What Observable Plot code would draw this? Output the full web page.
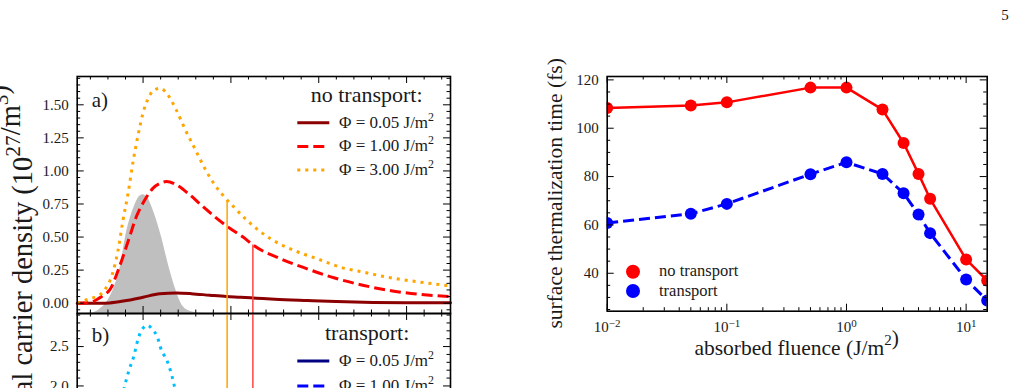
<!DOCTYPE html>
<html><head><meta charset="utf-8">
<script src="https://cdn.jsdelivr.net/npm/d3@7"></script>
<script src="https://cdn.jsdelivr.net/npm/@observablehq/plot@0.6"></script>
<style>
html,body{margin:0;padding:0;background:#fff;overflow:hidden;}
#root{position:relative;width:1024px;height:388px;overflow:hidden;}
#root svg{position:absolute;overflow:visible;}
</style></head><body><div id="root"></div>
<script>
// ---------- data: panel a (no transport), time in fs, density in 1e27/m^3 ----------
const tNo005 = [-75,-50,-38,-19,0,19,38,55,76,95,111,129,150,187,220,262,300,350];
const nNo005 = [0,0,0.002,0.02,0.045,0.071,0.077,0.072,0.06,0.05,0.045,0.038,0.03,0.02,0.012,0.006,0.004,0.003];
const tNo100 = [-75,-60,-53,-45,-38,-26.7,-17.1,-7.6,1.9,11.4,19,26.5,37.9,53,68.3,83.5,98.7,113.9,126,156.4,186.8,217.2,251.3,285.5,316,350];
const nNo100 = [0,0.005,0.026,0.06,0.10,0.28,0.466,0.655,0.78,0.87,0.905,0.92,0.895,0.82,0.73,0.643,0.567,0.50,0.436,0.336,0.26,0.192,0.134,0.091,0.066,0.05];
const tNo300 = [-75,-60,-50,-43.7,-35,-28.5,-22.8,-17.1,-11.4,-5.7,0,6,12.1,19.7,26.5,37.9,47.4,58.8,70.2,81.6,93,104.4,117.7,145.2,171.6,198.2,224.8,251.3,281.8,316,350];
const nNo300 = [0,0.036,0.06,0.10,0.22,0.40,0.63,0.83,1.07,1.27,1.44,1.55,1.61,1.625,1.59,1.46,1.32,1.17,1.02,0.895,0.80,0.72,0.63,0.487,0.40,0.336,0.272,0.234,0.192,0.159,0.13];
const tPulse = [-75,-60,-50,-40,-34,-26.7,-19,-10,-5,0,5,10,21,28.5,36,45.5,55,65,75];
const nPulse = [-0.078,-0.076,-0.05,0.02,0.10,0.25,0.53,0.73,0.80,0.82,0.80,0.73,0.50,0.30,0.126,-0.025,-0.065,-0.076,-0.078];
// thermalization markers (time, curve value) for 1.00 and 3.00 J/m^2
const markTime300 = 95.7, markVal300 = 0.775;
const markTime100 = 125,  markVal100 = 0.44;
// ---------- data: panel b (transport) ----------
const tTr300 = [-28,-22,-16,-11,-5,-1,5,11,16,21,27,31,35,40];
const nTr300 = [1.65,1.95,2.2,2.36,2.62,2.72,2.77,2.71,2.63,2.45,2.33,2.2,2.03,1.75];
// ---------- data: right panel ----------
const fluence = [0.01,0.05,0.1,0.5,1,2,3,4,5,10,15];
const tauNoTransport = [108.4,109.4,110.7,116.8,116.8,107.7,93.9,81.1,70.8,45.7,37.0];
const tauTransport   = [60.8,64.6,68.7,81.0,85.9,81.1,73.1,64.3,56.6,37.4,28.7];
// ---------- ticks ----------
const xTicksLeft = [0,100,200,300];
const yTicksA = [0,0.25,0.5,0.75,1.0,1.25,1.5];
const yTicksB = [0,0.5,1.0,1.5,2.0,2.5];
const xTicksRight = [0.01,0.1,1,10];
const yTicksRight = [40,60,80,100,120];

const serif = '"Liberation Serif","Times New Roman",serif';
const root = document.getElementById("root");
const NS = "http://www.w3.org/2000/svg";
const rows = (t, n) => t.map((d, i) => ({t: d, n: n[i]}));
const notMajor = (step) => (d) => Math.abs(d / step - Math.round(d / step)) > 1e-6;

function frameTicks({xMaj = [], xMin = [], yMaj = [], yMin = [], iw, ih}) {
  const k = {stroke: "black", strokeWidth: 1};
  const m = [];
  for (const [a, L] of [[xMaj, 7], [xMin, 3.5]]) {
    m.push(Plot.ruleX(a, {x: d => d, insetTop: ih - L, ...k}));
    m.push(Plot.ruleX(a, {x: d => d, insetBottom: ih - L, ...k}));
  }
  for (const [a, L] of [[yMaj, 7], [yMin, 3.5]]) {
    m.push(Plot.ruleY(a, {y: d => d, insetRight: iw - L, ...k}));
    m.push(Plot.ruleY(a, {y: d => d, insetLeft: iw - L, ...k}));
  }
  return m;
}
function place(svg, left, top) {
  svg.style.position = "absolute"; svg.style.left = left + "px"; svg.style.top = top + "px";
  root.appendChild(svg);
}
function addText(svg, x, y, parts, size, anchor = "start", transform = null, supScale = 0.7) {
  const t = document.createElementNS(NS, "text");
  t.setAttribute("x", x); t.setAttribute("y", y);
  if (transform) { t.setAttribute("transform", transform); t.setAttribute("x", 0); t.setAttribute("y", 0); }
  t.setAttribute("font-size", size); t.setAttribute("font-family", serif);
  t.setAttribute("text-anchor", anchor); t.setAttribute("fill", "#1a1a1a");
  for (const p of parts) {
    const s = document.createElementNS(NS, "tspan");
    if (typeof p === "string") { s.textContent = p; t.appendChild(s); }
    else {
      s.textContent = p.sup; s.setAttribute("dy", -0.42 * size); s.setAttribute("font-size", size * supScale);
      t.appendChild(s);
      const r = document.createElementNS(NS, "tspan"); r.setAttribute("dy", 0.42 * size); r.textContent = "";
      t.appendChild(r);
    }
  }
  svg.appendChild(t);
  return t;
}
function addLine(svg, x1, x2, y, color, dash, w = 3) {
  const l = document.createElementNS(NS, "line");
  l.setAttribute("x1", x1); l.setAttribute("x2", x2); l.setAttribute("y1", y); l.setAttribute("y2", y);
  l.setAttribute("stroke", color); l.setAttribute("stroke-width", w);
  if (dash) l.setAttribute("stroke-dasharray", dash);
  svg.appendChild(l);
}
function addDot(svg, x, y, r, color) {
  const c = document.createElementNS(NS, "circle");
  c.setAttribute("cx", x); c.setAttribute("cy", y); c.setAttribute("r", r); c.setAttribute("fill", color);
  svg.appendChild(c);
}
const baseStyle = {background: "transparent", overflow: "visible", fontFamily: serif, fontSize: "15px", color: "#1a1a1a"};
const xDomLeft = [-75, 350];
const xMinorLeft = d3.range(-60, 341, 20).filter(notMajor(100));

// ---------- panel a ----------
{
  const W = 460, H = 314, ml = 76.7, mr = 10, mt = 76, mb = 1;
  const iw = W - ml - mr, ih = H - mt - mb;
  const yDom = [-0.078, 1.714];
  const svg = Plot.plot({
    width: W, height: H, marginLeft: ml, marginRight: mr, marginTop: mt, marginBottom: mb,
    x: {domain: xDomLeft, axis: null}, y: {domain: yDom, axis: null},
    style: baseStyle,
    marks: [
      Plot.areaY(rows(tPulse, nPulse), {x: "t", y1: yDom[0], y2: "n", fill: "#bfbfbf", curve: "monotone-x"}),
      Plot.line(rows(tNo005, nNo005), {x: "t", y: "n", stroke: "#8b0000", strokeWidth: 3, curve: "monotone-x"}),
      Plot.line(rows(tNo100, nNo100), {x: "t", y: "n", stroke: "#ff0000", strokeWidth: 3, strokeDasharray: "11,5", strokeLinecap: "butt", curve: "monotone-x"}),
      Plot.line(rows(tNo300, nNo300), {x: "t", y: "n", stroke: "#ffa500", strokeWidth: 3, strokeDasharray: "3,5", strokeLinecap: "butt", curve: "monotone-x"}),
      Plot.ruleX([markTime300], {x: d => d, y1: yDom[0], y2: markVal300, stroke: "#ffa500", strokeWidth: 1.5}),
      Plot.ruleX([markTime100], {x: d => d, y1: yDom[0], y2: markVal100, stroke: "#f44", strokeWidth: 1.5}),
      Plot.axisY(yTicksA, {anchor: "left", tickSize: 0, tickPadding: 8.4, tickFormat: d3.format(".2f"), fontSize: 15, label: null}),
      ...frameTicks({xMaj: xTicksLeft, xMin: xMinorLeft, yMaj: yTicksA,
        yMin: d3.range(-0.05, 1.71, 0.05).filter(notMajor(0.25)), iw, ih}),
      Plot.frame({stroke: "black", strokeWidth: 1.6})
    ]
  });
  place(svg, 0, 0);
  addText(svg, 91.7, 107, ["a)"], 21);
  addText(svg, 310.7, 101.7, ["no transport:"], 22);
  const leg = [["#8b0000", null, "0.05"], ["#ff0000", "11,5", "1.00"], ["#ffa500", "3,5", "3.00"]];
  leg.forEach(([c, d, v], i) => {
    const y = 122.7 + i * 23.7;
    addLine(svg, 297.3, 329.3, y, c, d);
    addText(svg, 339, y + 5, ["Φ = " + v + " J/m", {sup: "2"}], 17);
  });
}

// ---------- panel b ----------
{
  const W = 460, H = 260, ml = 76.7, mr = 10, mt = 13, mb = 10;
  const iw = W - ml - mr, ih = H - mt - mb;
  const yDom = [-0.09, 2.92];
  const svg = Plot.plot({
    width: W, height: H, marginLeft: ml, marginRight: mr, marginTop: mt, marginBottom: mb,
    x: {domain: xDomLeft, axis: null}, y: {domain: yDom, axis: null},
    style: baseStyle,
    marks: [
      Plot.line(rows(tTr300, nTr300), {x: "t", y: "n", stroke: "#00bfff", strokeWidth: 3, strokeDasharray: "3,5", strokeLinecap: "butt", curve: "monotone-x"}),
      Plot.ruleX([markTime300], {x: d => d, stroke: "#ffa500", strokeWidth: 1.5}),
      Plot.ruleX([markTime100], {x: d => d, stroke: "#f44", strokeWidth: 1.5}),
      Plot.axisY(yTicksB, {anchor: "left", tickSize: 0, tickPadding: 8.4, tickFormat: d3.format(".1f"), fontSize: 15, label: null}),
      ...frameTicks({xMaj: xTicksLeft, xMin: xMinorLeft, yMaj: yTicksB,
        yMin: d3.range(0.1, 2.91, 0.1).filter(notMajor(0.5)), iw, ih}),
      Plot.frame({stroke: "black", strokeWidth: 1.6})
    ]
  });
  place(svg, 0, 300);
  addText(svg, 91.7, 41.5, ["b)"], 21);
  addText(svg, 325, 40, ["transport:"], 22);
  const leg = [["#000080", null, "0.05"], ["#0000ff", "11,5", "1.00"]];
  leg.forEach(([c, d, v], i) => {
    const y = 61 + i * 25;
    addLine(svg, 297.3, 329.3, y, c, d);
    addText(svg, 339, y + 5, ["Φ = " + v + " J/m", {sup: "2"}], 17);
  });
}

// ---------- right panel ----------
{
  const W = 494, H = 388, ml = 76.7, mr = 37.3, mt = 76, mb = 77.3;
  const iw = W - ml - mr, ih = H - mt - mb;
  const xMin = [];
  for (const e of [-2, -1, 0, 1]) for (let k = 2; k <= 9; k++) { const v = k * Math.pow(10, e); if (v <= 15) xMin.push(v); }
  const noT = fluence.map((f, i) => ({f, tau: tauNoTransport[i]}));
  const tr = fluence.map((f, i) => ({f, tau: tauTransport[i]}));
  const svg = Plot.plot({
    width: W, height: H, marginLeft: ml, marginRight: mr, marginTop: mt, marginBottom: mb,
    x: {type: "log", domain: [0.01, 15], axis: null}, y: {domain: [24.3, 121.4], axis: null},
    style: baseStyle,
    marks: [
      Plot.line(noT, {x: "f", y: "tau", stroke: "#ff0000", strokeWidth: 2.5, clip: true}),
      Plot.dot(noT, {x: "f", y: "tau", r: 6, fill: "#ff0000", clip: true}),
      Plot.line(tr, {x: "f", y: "tau", stroke: "#0000ff", strokeWidth: 3, strokeDasharray: "11,5", strokeLinecap: "butt", clip: true}),
      Plot.dot(tr, {x: "f", y: "tau", r: 6, fill: "#0000ff", clip: true}),
      Plot.axisY(yTicksRight, {anchor: "left", tickSize: 0, tickPadding: 8.4, fontSize: 15, label: null}),
      Plot.axisX(xTicksRight, {anchor: "bottom", tickSize: 0, tickPadding: 10.5, fontSize: 15, label: null,
        tickFormat: d => "10^" + Math.round(Math.log10(d))}),
      ...frameTicks({xMaj: xTicksRight, xMin, yMaj: yTicksRight,
        yMin: d3.range(25, 121, 5).filter(notMajor(20)), iw, ih}),
      Plot.frame({stroke: "black", strokeWidth: 1.6})
    ]
  });
  // superscript exponents on log tick labels
  svg.querySelectorAll("text").forEach(t => {
    if (t.textContent.includes("^")) {
      const [b, e] = t.textContent.split("^");
      t.textContent = b;
      const s = document.createElementNS(NS, "tspan");
      s.setAttribute("dy", "-0.45em"); s.setAttribute("font-size", 11);
      s.textContent = e.replace("-", "−");
      t.appendChild(s);
    }
  });
  place(svg, 530, 0);
  addDot(svg, 103, 271.7, 7, "#ff0000");
  addDot(svg, 103, 291, 7, "#0000ff");
  addText(svg, 129, 276, ["no transport"], 16.5);
  addText(svg, 129, 295.5, ["transport"], 16.5);
  addText(svg, 266.7, 354.5, ["absorbed fluence (J/m", {sup: "2"}, ")"], 21.5, "middle");
  addText(svg, 0, 0, ["surface thermalization time (fs)"], 21.5, "middle", "translate(31.7,193.4) rotate(-90)");
}

// ---------- overlay: shared y label + page number ----------
{
  const ov = document.createElementNS(NS, "svg");
  ov.setAttribute("width", 1024); ov.setAttribute("height", 388);
  ov.style.left = "0px"; ov.style.top = "0px";
  root.appendChild(ov);
  addText(ov, 0, 0, ["nonthermal carrier density (10", {sup: "27"}, "/m", {sup: "3"}, ")"], 28.5, "end", "translate(32,85) rotate(-90)", 0.75);
  addText(ov, 1005, 20, ["5"], 15, "middle");
}
</script></body></html>
